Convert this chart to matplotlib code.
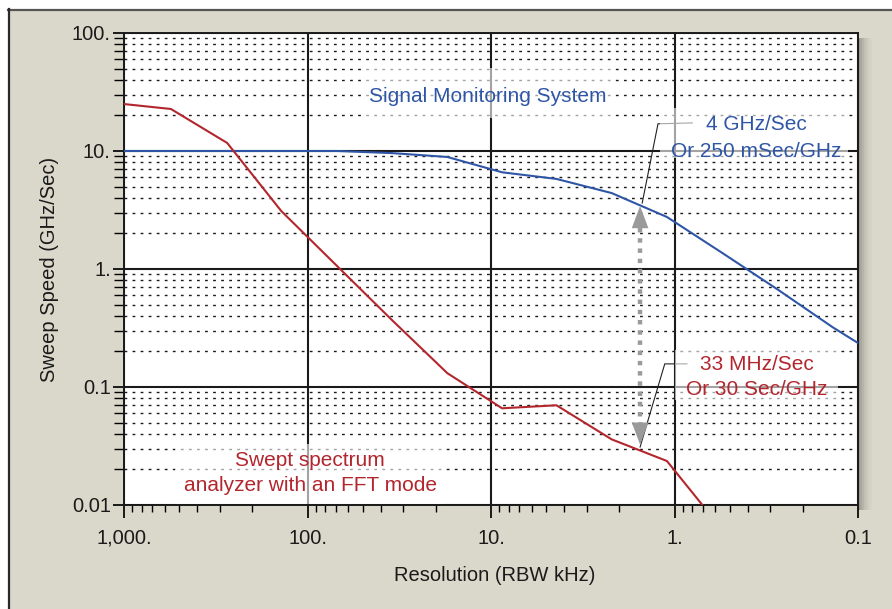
import matplotlib
matplotlib.use("Agg")
import matplotlib.pyplot as plt
from matplotlib.patches import Rectangle
from matplotlib.lines import Line2D
from matplotlib.ticker import FixedLocator, FixedFormatter, LogLocator, NullFormatter

plt.rcParams['font.family'] = ['Liberation Sans', 'DejaVu Sans']

# resolution bandwidth (kHz) of the points along the curves
rbw_blue = [1000, 555, 274, 139, 69, 34.7, 17.3, 8.7, 4.4, 2.2, 1.1, 0.55, 0.27, 0.137, 0.1]
speed_blue = [10, 10, 10, 10, 10, 9.6, 8.9, 6.6, 5.8, 4.4, 2.76, 1.37, 0.66, 0.32, 0.236]

rbw_red = [1000, 555, 274, 139, 69, 34.7, 17.3, 8.7, 4.4, 2.2, 1.1, 0.55]
speed_red = [25, 22.7, 11.7, 3.1, 1.06, 0.37, 0.131, 0.066, 0.070, 0.036, 0.0236, 0.0062]

x_ticks = [1000, 100, 10, 1, 0.1]
x_labels = ['1,000.', '100.', '10.', '1.', '0.1']
y_ticks = [0.01, 0.1, 1, 10, 100]
y_labels = ['0.01', '0.1', '1.', '10.', '100.']

# double arrow between the two curves and the leader lines of the callouts
arrow_x = 1.54
arrow_top = (3.42, 2.22)      # tip, base of head
arrow_bottom = (0.0324, 0.0476)
leader_blue_x = [0.80, 1.23, 1.50]
leader_blue_y = [17.3, 17.0, 3.62]
leader_red_x = [0.855, 1.13, 1.54]
leader_red_y = [0.157, 0.157, 0.031]

BLUE = '#2f56a6'
RED = '#b3262e'
BEIGE = '#dad8ca'

fig = plt.figure(figsize=(8.92, 6.09), dpi=100, facecolor='white')
W, H = 892, 609

def fx(px):
    return px / W

def fy(py):
    return 1 - py / H

# beige panel with a dark border on top and left
fig.patches.append(Rectangle((fx(8), 0), 1, fy(9), transform=fig.transFigure,
                             facecolor=BEIGE, edgecolor='none', zorder=-10))
fig.lines.append(Line2D([fx(8), 1], [fy(9.5), fy(9.5)], transform=fig.transFigure,
                        color='#555555', lw=1.6))
fig.lines.append(Line2D([fx(8.5), fx(8.5)], [0, fy(9)], transform=fig.transFigure,
                        color='#2a2a2a', lw=1.6))

# soft shadow on the right of the plot area
for i, a in enumerate([0.30, 0.22, 0.16, 0.11, 0.07, 0.04, 0.02]):
    fig.patches.append(Rectangle((fx(858 + 2 * i), fy(510)), fx(2), fy(38) - fy(510),
                                 transform=fig.transFigure, facecolor='black',
                                 alpha=a, edgecolor='none', zorder=-5))

ax = fig.add_axes([fx(124), fy(505), fx(858) - fx(124), fy(33) - fy(505)])
ax.set_xscale('log')
ax.set_yscale('log')
ax.set_xlim(1000, 0.1)
ax.set_ylim(0.01, 100)

ax.xaxis.set_major_locator(FixedLocator(x_ticks))
ax.xaxis.set_major_formatter(FixedFormatter(x_labels))
ax.xaxis.set_minor_locator(LogLocator(base=10, subs=range(2, 10)))
ax.xaxis.set_minor_formatter(NullFormatter())
ax.yaxis.set_major_locator(FixedLocator(y_ticks))
ax.yaxis.set_major_formatter(FixedFormatter(y_labels))
ax.yaxis.set_minor_locator(LogLocator(base=10, subs=range(2, 10)))
ax.yaxis.set_minor_formatter(NullFormatter())

ax.tick_params(axis='x', which='major', direction='out', length=9, width=1.4, pad=8,
               labelsize=14.5, colors='#1a1a1a')
ax.tick_params(axis='x', which='minor', direction='out', length=5, width=1.0)
ax.tick_params(axis='y', which='major', direction='out', length=8, width=1.4, pad=1.5,
               labelsize=14.5, colors='#1a1a1a')
ax.tick_params(axis='y', which='minor', direction='out', length=7, width=1.0)

ax.grid(True, which='major', axis='both', color='#1a1a1a', lw=1.5, ls='-')
ax.grid(True, which='minor', axis='y', color='#1a1a1a', lw=1.0, ls=(0, (2, 3.8)))
ax.set_axisbelow(True)
for s in ax.spines.values():
    s.set_color('#1a1a1a')
    s.set_linewidth(1.4)

ax.plot(rbw_blue, speed_blue, color=BLUE, lw=1.5, zorder=3)
ax.plot(rbw_red, speed_red, color=RED, lw=1.5, zorder=3)

# leader lines
ax.plot(leader_blue_x, leader_blue_y, color='#222222', lw=0.8, zorder=2)
ax.plot(leader_red_x, leader_red_y, color='#222222', lw=0.8, zorder=2)

# dotted double arrow
ax.plot([arrow_x, arrow_x], [arrow_top[1], arrow_bottom[1]], color='#9a9a9a', lw=3.2,
        ls=(0, (1, 1.3)), solid_capstyle='butt', zorder=4)
for tip, base in (arrow_top, arrow_bottom):
    ax.annotate('', xy=(arrow_x, tip), xytext=(arrow_x, base),
                arrowprops=dict(arrowstyle='-|>,head_length=16,head_width=6',
                                mutation_scale=1, color='#9a9a9a', lw=0,
                                shrinkA=0, shrinkB=0), zorder=4)

# white translucent boxes behind the callouts
boxes = [(364, 68, 612, 118), (660, 108, 848, 158), (675, 350, 838, 400), (175, 444, 443, 505)]
for x0, y0, x1, y1 in boxes:
    ax.add_patch(Rectangle(((x0 - 124) / 734, (505 - y1) / 472), (x1 - x0) / 734,
                           (y1 - y0) / 472, transform=ax.transAxes, facecolor='white',
                           alpha=0.6, edgecolor='none', zorder=2.5))

ax.text((488 - 124) / 734, (505 - 97) / 472, 'Signal Monitoring System', transform=ax.transAxes,
        ha='center', va='center', color=BLUE, fontsize=15, zorder=5)
ax.text((756 - 124) / 734, (505 - 138) / 472, '4 GHz/Sec\nOr 250 mSec/GHz', transform=ax.transAxes,
        ha='center', va='center', color=BLUE, fontsize=15, linespacing=1.5, zorder=5)
ax.text((757 - 124) / 734, (505 - 377) / 472, '33 MHz/Sec\nOr 30 Sec/GHz', transform=ax.transAxes,
        ha='center', va='center', color=RED, fontsize=15, linespacing=1.45, zorder=5)
ax.text((310 - 124) / 734, (505 - 473) / 472, 'Swept spectrum\nanalyzer with an FFT mode',
        transform=ax.transAxes, ha='center', va='center', color=RED, fontsize=15,
        linespacing=1.45, zorder=5)

ax.set_xlabel('Resolution (RBW kHz)', fontsize=14.5, color='#1a1a1a')
ax.set_ylabel('Sweep Speed (GHz/Sec)', fontsize=14.5, color='#1a1a1a')
ax.xaxis.set_label_coords((495 - 124) / 734, (505 - 566) / 472)
ax.yaxis.set_label_coords((59 - 124) / 734, 0.5)

fig.savefig('out.png', dpi=100, facecolor=fig.get_facecolor())
